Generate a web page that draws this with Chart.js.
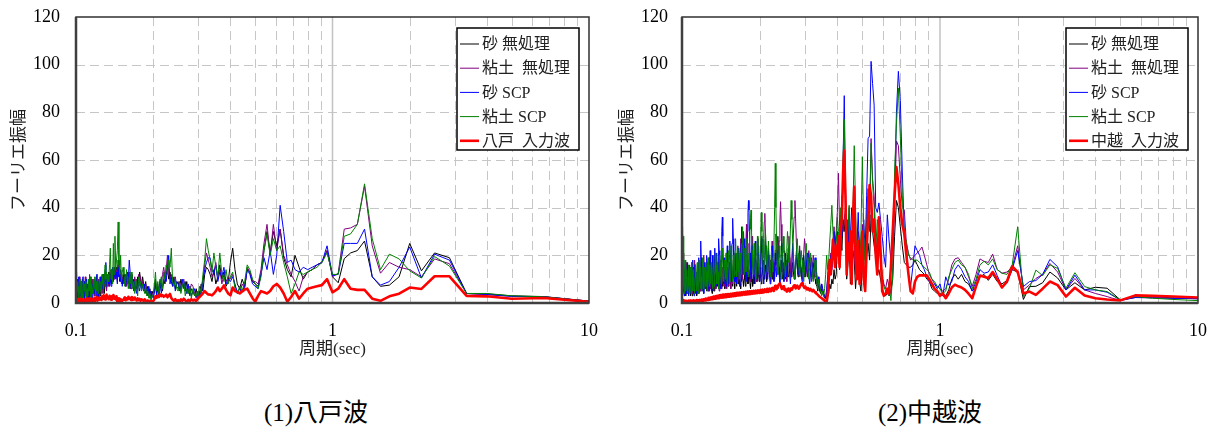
<!DOCTYPE html>
<html lang="ja">
<head>
<meta charset="utf-8">
<title>フーリエ振幅スペクトル</title>
<script src="https://cdn.jsdelivr.net/npm/chart.js@4.4.1/dist/chart.umd.min.js"></script>
<style>
  html, body { margin: 0; padding: 0; background: #fff; }
  body { width: 1217px; height: 432px; position: relative; overflow: hidden; }
  canvas { position: absolute; top: 0; }
  #chartHachinohe { left: 0; }
  #chartChuetsu { left: 608px; }
  .caption {
    position: absolute; top: 398px; width: 200px; line-height: 30px;
    text-align: center; color: #000;
    font-size: 25px; font-family: 'Liberation Serif', 'Noto Sans CJK JP', serif;
  }
</style>
</head>
<body>
<canvas id="chartHachinohe" width="608" height="362"></canvas>
<canvas id="chartChuetsu" width="609" height="362"></canvas>
<div class="caption" style="left:216px">(1)八戸波</div>
<div class="caption" style="left:830px">(2)中越波</div>
<script>
// 軸の目盛
const amplitudeTicks = [0, 20, 40, 60, 80, 100, 120];
const gridPeriods = [0.1, 0.2, 0.3, 0.4, 0.5, 0.6, 0.7, 0.8, 0.9, 1, 2, 3, 4, 5, 6, 7, 8, 9, 10];
const labelPeriods = [0.1, 1, 10];

const seriesNames = ['砂 無処理', '粘土  無処理', '砂 SCP', '粘土 SCP'];
const seriesColors = ['#000000', '#800080', '#0000ff', '#008000'];

// 八戸波：振動数刻み 0.05Hz（k = 200 → 2、周期 = 20/k 秒）
const kHachinohe = [];
for (let k = 200; k >= 2; k--) kHachinohe.push(k);
const periodHachinohe = kHachinohe.map(k => 20 / k);

const hachiSandRaw = [
  5, 2, 8, 3, 6, 1, 9, 4, 7, 2,
  6, 3, 9, 5, 2, 8, 4, 10, 3, 7,
  4, 8, 2, 6, 10, 3, 7, 5, 9, 4,
  7, 3, 9, 5, 11, 4, 8, 6, 10, 3,
  8, 5, 11, 7, 12, 4, 9, 13, 6, 10,
  9, 13, 7, 11, 14, 8, 12, 10, 15, 11,
  12, 15, 10, 18, 13, 9, 14, 11, 8, 12,
  9, 12, 7, 11, 13, 8, 10, 6, 12, 9,
  7, 10, 5, 9, 6, 11, 8, 13, 10, 7,
  11, 8, 6, 9, 5, 7, 4, 6, 3, 5,
  3, 5, 9, 4, 7, 3, 6, 8, 5, 10,
  8, 12, 15, 10, 13, 9, 7, 11, 6, 8,
  9, 6, 10, 7, 8, 5, 9, 4, 7, 3,
  5, 3, 6, 2, 4, 8, 5, 12, 15, 14,
  12, 9, 14, 8, 11, 16, 10, 13, 7, 9,
  17, 23, 14, 8, 6, 10, 7, 14, 13, 9,
  8, 7, 12, 22, 30, 21, 30, 24, 31, 19,
  14, 11, 20, 15, 10, 13, 14, 16, 17, 22,
  11, 8.5, 18.6, 21, 22, 26, 11, 7, 7.5, 11,
  25, 13.5, 21, 19, 4, 3.8, 3, 2.7, 0.8
];
const hachiClayRaw = [
  9, 13, 4, 10, 3, 8, 11, 2, 6, 5,
  4, 10, 2, 7, 9, 3, 11, 5, 8, 2,
  8, 3, 6, 12, 4, 9, 2, 10, 5, 7,
  3, 9, 5, 11, 7, 2, 10, 6, 4, 9,
  6, 11, 8, 4, 10, 12, 7, 9, 5, 11,
  10, 7, 12, 9, 13, 11, 8, 14, 10, 13,
  11, 14, 9, 16, 12, 10, 13, 8, 11, 9,
  8, 10, 12, 7, 9, 11, 13, 6, 10, 8,
  9, 6, 11, 7, 10, 5, 12, 8, 11, 6,
  9, 7, 5, 8, 4, 6, 3, 5, 2, 4,
  4, 6, 10, 5, 8, 4, 9, 7, 12, 15,
  11, 14, 20, 13, 10, 12, 9, 8, 11, 7,
  6, 9, 5, 8, 10, 6, 4, 7, 5, 8,
  7, 4, 2, 5, 3, 6, 10, 16, 21, 18,
  15, 11, 13, 17, 10, 14, 8, 12, 9, 11,
  10, 12, 7, 5, 4, 8, 6, 15, 13, 9,
  9, 8, 14, 25, 33, 20, 33, 22, 31, 20,
  16, 12, 9, 5, 11, 13, 14, 16, 17, 22,
  11, 12.5, 31, 31.5, 33, 49, 24, 12.5, 17, 15,
  14, 11, 18.5, 16.5, 4, 3.5, 2.8, 2.6, 0.8
];
const hachiSandScp = [
  7, 3, 10, 2, 5, 11, 4, 8, 3, 9,
  2, 6, 11, 3, 9, 1, 7, 4, 10, 5,
  8, 2, 5, 9, 3, 11, 6, 2, 8, 5,
  10, 4, 7, 3, 12, 6, 9, 2, 8, 11,
  5, 9, 12, 6, 10, 8, 14, 17, 7, 12,
  11, 8, 13, 10, 7, 12, 15, 9, 11, 14,
  10, 13, 8, 15, 11, 14, 9, 12, 7, 10,
  11, 9, 7, 12, 8, 10, 18, 13, 6, 11,
  8, 5, 9, 6, 4, 10, 7, 5, 8, 6,
  7, 5, 8, 4, 6, 3, 7, 2, 5, 3,
  2, 4, 8, 3, 6, 5, 10, 4, 7, 9,
  12, 9, 15, 20, 8, 11, 7, 10, 5, 9,
  8, 5, 7, 10, 6, 9, 4, 8, 3, 6,
  4, 6, 3, 2, 5, 3, 9, 14, 17, 19,
  19, 14, 12, 16, 9, 13, 11, 15, 8, 10,
  9, 11, 8, 4, 6, 5, 7, 14, 12, 8,
  7, 6, 12, 19, 14, 22, 12, 20, 41, 30,
  17, 18, 14, 13, 15, 14, 15, 16, 17, 24,
  11.5, 12, 25, 25, 25, 31, 11, 7.5, 9, 15,
  23.5, 10.5, 20.5, 18, 4, 3.6, 2.8, 2.6, 0.7
];
const hachiClayScp = [
  3, 8, 5, 9, 2, 7, 4, 10, 6, 1,
  9, 4, 2, 11, 5, 8, 3, 9, 2, 6,
  3, 10, 5, 7, 11, 2, 8, 6, 4, 10,
  6, 11, 3, 9, 5, 12, 4, 8, 10, 5,
  9, 4, 12, 8, 6, 11, 16, 10, 13, 7,
  12, 9, 16, 23, 10, 14, 8, 25, 12, 28,
  14, 18, 22, 34, 16, 12, 20, 9, 13, 15,
  12, 7, 10, 14, 9, 6, 11, 8, 13, 7,
  6, 9, 4, 10, 8, 3, 11, 7, 9, 5,
  8, 6, 4, 7, 3, 5, 2, 4, 1, 3,
  3, 7, 13, 5, 9, 4, 8, 11, 6, 13,
  10, 16, 12, 18, 15, 23, 9, 7, 10, 6,
  5, 8, 4, 7, 9, 3, 6, 4, 7, 2,
  6, 3, 4, 2, 7, 4, 12, 18, 27, 22,
  18, 13, 21, 15, 11, 21, 12, 9, 14, 8,
  11, 13, 6, 4, 7, 5, 9, 16, 14, 10,
  8, 6, 11, 22, 29, 20, 27, 22, 24, 17,
  11, 4, 8, 13, 12, 13, 14, 15, 17, 21,
  12, 12, 28, 29, 33, 50, 27, 14, 20.5, 18.5,
  13.5, 10.5, 19.5, 15.5, 4, 4, 3, 2.6, 0.7
];
const hachiInput = [
  0.8, 1.2, 0.5, 1.5, 0.7, 1.0, 1.8, 0.6, 1.3, 0.9,
  1.1, 0.5, 1.6, 0.8, 1.2, 0.4, 1.5, 1.0, 0.7, 1.9,
  1.4, 0.6, 1.0, 2.0, 0.8, 1.3, 0.5, 1.7, 1.1, 0.9,
  1.2, 2.2, 0.9, 1.6, 2.5, 1.0, 1.8, 1.3, 2.4, 1.5,
  2.0, 1.3, 2.8, 1.7, 3.2, 2.2, 1.5, 2.6, 3.5, 2.0,
  2.4, 1.6, 3.0, 2.2, 1.4, 2.8, 2.0, 3.3, 1.8, 2.6,
  1.5, 2.8, 0.5, 1.2, 2.0, 0.8, 1.6, 0.6, 1.0, 1.4,
  1.8, 2.4, 1.2, 2.0, 1.5, 2.6, 1.7, 2.2, 1.3, 2.5,
  2.0, 1.4, 2.3, 1.6, 1.1, 1.9, 1.2, 1.7, 0.9, 1.5,
  1.2, 0.8, 1.5, 1.0, 0.6, 1.1, 0.4, 0.9, 0.3, 0.7,
  0.8, 1.5, 2.8, 2.2, 3.2, 2.5, 3.6, 2.9, 3.3, 2.6,
  3.0, 3.5, 2.4, 3.1, 3.8, 2.0, 1.4, 0.9, 1.6, 0.7,
  1.2, 0.6, 1.5, 0.9, 1.8, 1.1, 0.5, 1.3, 0.8, 1.6,
  1.0, 1.4, 0.8, 1.8, 2.5, 3.2, 4.0, 5.0, 4.2, 3.6,
  3.5, 3.2, 4.0, 5.0, 6.5, 5.0, 6.0, 7.4, 5.5, 4.0,
  3.2, 6.5, 5.0, 4.6, 4.0, 4.8, 5.6, 6.0, 4.0, 2.0,
  0.5, 3, 5, 4.5, 4, 5, 7, 8, 6.5, 4,
  0.5, 2.5, 5, 1.8, 4, 6, 6.5, 7, 7.5, 10,
  4.5, 6, 10, 6, 5.5, 5.5, 1.8, 0.9, 2.8, 3.9,
  6.5, 5.9, 11.2, 11.2, 3, 2.8, 1.8, 2.1, 0.5
];

// 中越波：振動数刻み 0.025Hz（k = 400 → 4、周期 = 40/k 秒）
const kChuetsu = [];
for (let k = 400; k >= 4; k--) kChuetsu.push(k);
const periodChuetsu = kChuetsu.map(k => 40 / k);

const chuSandRaw = [
  14, 10, 6, 4, 7, 11, 8, 5, 3, 6,
  9, 12, 8, 5, 3, 6, 10, 7, 4, 6,
  10, 7, 4, 3, 6, 9, 12, 8, 5, 3,
  5, 8, 11, 8, 5, 3, 6, 10, 7, 4,
  6, 9, 12, 9, 6, 4, 7, 11, 8, 5,
  3, 6, 9, 13, 9, 6, 4, 7, 10, 7,
  5, 8, 11, 8, 5, 7, 11, 14, 10, 6,
  4, 7, 10, 13, 9, 6, 9, 12, 8, 5,
  8, 11, 14, 10, 7, 5, 8, 11, 8, 6,
  9, 12, 9, 6, 4, 7, 11, 14, 10, 7,
  5, 8, 12, 9, 6, 9, 13, 10, 7, 10,
  13, 9, 6, 8, 12, 15, 11, 8, 6, 9,
  12, 9, 7, 10, 14, 11, 8, 6, 9, 13,
  10, 7, 10, 13, 10, 7, 9, 12, 15, 11,
  8, 6, 9, 12, 9, 7, 10, 14, 11, 8,
  6, 9, 12, 10, 7, 10, 14, 11, 8, 11,
  14, 11, 8, 6, 9, 13, 16, 12, 9, 7,
  10, 13, 10, 7, 9, 12, 15, 11, 8, 11,
  14, 11, 8, 6, 9, 13, 10, 7, 10, 14,
  11, 8, 11, 15, 12, 9, 12, 16, 12, 9,
  12, 15, 11, 8, 11, 14, 18, 14, 10, 13,
  16, 12, 9, 12, 16, 20, 15, 11, 14, 18,
  14, 10, 13, 17, 13, 10, 14, 19, 24, 18,
  28, 21, 15, 11, 14, 18, 13, 10, 14, 17,
  13, 10, 14, 18, 14, 11, 15, 19, 15, 11,
  14, 17, 13, 10, 13, 17, 20, 15, 11, 14,
  18, 14, 11, 15, 19, 15, 11, 14, 18, 14,
  11, 15, 19, 15, 11, 14, 17, 13, 10, 8,
  7, 5, 8, 5, 4, 6, 4, 3, 2, 2,
  3, 5, 4, 8, 6, 10, 8, 14, 10, 12,
  25, 20, 14, 28, 22, 35, 30, 38, 10, 16, 26, 8, 12, 22, 18, 6, 14, 20, 9, 5, 15,
  15, 8, 20, 25, 18, 37, 30, 24, 20, 12,
  14, 10, 6, 4, 3, 4, 3, 5, 10, 28,
  43, 40, 32, 24, 17, 16, 15, 15, 16, 18, 16, 14, 13, 12, 10, 9,
  6, 5, 4, 4, 3, 3, 5.5, 10, 12, 10,
  12, 9, 8, 5, 7, 11, 12, 9.5, 12, 9,
  8, 9.5, 14, 13, 1.5, 6.9, 7, 8.5, 13, 10.5,
  5.5, 8.5, 5.5, 6.6, 6.2, 1.3, 2.4, 2.7, 2.1, 1.8
];
const chuClayRaw = [
  8, 15, 22, 29, 21, 13, 8, 5, 9, 14,
  10, 6, 4, 8, 13, 17, 12, 7, 5, 9,
  14, 11, 7, 4, 7, 12, 16, 13, 8, 5,
  8, 13, 17, 12, 7, 4, 6, 11, 15, 10,
  6, 9, 14, 18, 13, 8, 5, 8, 12, 9,
  5, 7, 11, 16, 12, 7, 4, 9, 14, 17,
  13, 8, 5, 9, 14, 19, 15, 10, 6, 10,
  15, 20, 14, 9, 6, 10, 16, 12, 7, 11,
  17, 13, 8, 5, 10, 15, 19, 14, 9, 6,
  10, 15, 11, 7, 12, 18, 13, 8, 5, 9,
  14, 19, 15, 10, 6, 11, 17, 13, 8, 12,
  17, 12, 8, 5, 9, 14, 18, 13, 9, 6,
  10, 15, 12, 8, 13, 17, 12, 7, 11, 16,
  12, 8, 6, 10, 15, 11, 7, 12, 17, 13,
  9, 6, 11, 16, 13, 8, 12, 18, 14, 10,
  15, 21, 16, 11, 8, 13, 19, 24, 18, 12,
  9, 15, 22, 27, 20, 14, 10, 16, 23, 30,
  24, 17, 12, 19, 26, 33, 25, 17, 12, 18,
  25, 19, 13, 9, 15, 22, 28, 21, 15, 11,
  16, 23, 18, 13, 9, 14, 21, 27, 20, 14,
  10, 15, 22, 28, 21, 15, 19, 27, 34, 37.6,
  30, 22, 15, 11, 16, 23, 18, 12, 9, 14,
  20, 26, 20, 14, 10, 15, 22, 29, 23, 16,
  12, 18, 26, 34, 42.5, 33, 22, 15, 11, 16,
  22, 17, 12, 9, 14, 21, 28, 22, 15, 11,
  16, 22, 29, 36, 43, 34, 24, 17, 12, 18,
  24, 19, 14, 10, 15, 21, 27, 21, 15, 11,
  16, 22, 18, 13, 9, 14, 20, 16, 11, 15,
  12, 8, 11, 7, 5, 8, 6, 4, 3, 2,
  6, 11, 17, 13, 21, 15, 24, 32, 25, 30,
  38, 54.4, 32, 20, 45, 30, 35, 40, 25, 18, 40, 22, 15, 35, 28, 12, 20, 30, 25, 10, 33,
  25, 18, 35, 48, 30, 69, 52, 45, 28, 20,
  25, 18, 12, 8, 6, 10, 7, 4, 15, 40,
  68, 66, 52, 40, 39, 25, 21, 18, 19, 20, 21, 22, 23.5, 20, 16, 12,
  10, 8, 7, 6, 5, 6, 10, 16, 18.5, 19,
  17, 15, 11, 7, 12, 18.5, 17.5, 17, 20.5, 14,
  12.5, 13, 15, 24, 5.5, 7.6, 10.3, 12, 16.6, 13,
  5.5, 10.3, 5.5, 4, 2.7, 1.0, 2.3, 2.2, 2, 1.8
];
const chuSandScp = [
  32, 24, 15, 8, 5, 9, 14, 18, 12, 6,
  3, 5, 10, 16, 13, 8, 4, 7, 12, 17,
  14, 9, 5, 3, 6, 11, 15, 12, 7, 4,
  6, 10, 13, 9, 5, 8, 14, 18, 13, 8,
  5, 3, 7, 12, 16, 11, 6, 4, 8, 13,
  10, 6, 4, 9, 15, 19, 14, 9, 6, 11,
  16, 21, 26, 19, 12, 8, 5, 9, 14, 11,
  7, 4, 8, 13, 17, 12, 7, 10, 15, 20,
  16, 10, 6, 9, 13, 8, 5, 11, 17, 22,
  18, 12, 8, 5, 9, 15, 20, 14, 9, 13,
  18, 23, 17, 11, 7, 10, 16, 21, 15, 9,
  14, 20, 27, 22, 14, 9, 6, 11, 17, 24,
  30, 36, 28, 19, 12, 8, 13, 19, 15, 10,
  7, 12, 18, 24, 17, 11, 8, 14, 20, 26,
  21, 15, 10, 16, 25, 31, 35.5, 27, 18, 12,
  9, 14, 20, 16, 11, 8, 13, 19, 23, 17,
  11, 7, 12, 18, 25, 32, 26, 18, 12, 15,
  21, 27, 20, 13, 9, 15, 22, 30, 38, 43,
  39, 30, 21, 14, 10, 16, 24, 18, 12, 8,
  13, 19, 26, 20, 14, 10, 17, 24, 19, 13,
  9, 14, 21, 27, 22, 15, 11, 8, 13, 20,
  26, 20, 14, 10, 15, 22, 17, 12, 8, 12,
  18, 24, 19, 13, 9, 14, 21, 16, 11, 15,
  22, 17, 12, 8, 13, 20, 25, 18, 12, 9,
  14, 21, 16, 11, 17, 23, 18, 12, 8, 13,
  19, 25, 20, 14, 10, 15, 22, 17, 12, 16,
  22, 17, 12, 9, 14, 20, 16, 11, 15, 21,
  17, 12, 8, 13, 19, 15, 10, 14, 19, 14,
  10, 7, 11, 8, 5, 8, 6, 4, 3, 2,
  5, 10, 16, 12, 20, 14, 26, 30, 22, 28,
  30, 24, 18, 35, 28, 60, 87, 50, 22, 35, 19, 28, 40, 25, 31, 14, 24, 38, 20, 12, 25,
  35, 22, 45, 69, 70, 101.4, 92, 83, 40, 38,
  42, 35, 28, 20, 15, 37, 26, 18, 30, 45,
  80, 97.2, 85, 55, 30, 24, 12, 7, 15, 24, 22, 20, 16, 14, 11, 9,
  7, 8, 6, 8, 3, 11, 7.5, 9, 14, 16,
  14, 11, 9, 5, 9, 14, 12.5, 13, 16, 11.5,
  7, 8.5, 14, 22, 6.9, 9, 9.4, 12, 18.3, 15.2,
  5.5, 11.7, 5.5, 5.5, 4.5, 1.2, 2.3, 2.2, 2, 1.8
];
const chuClayScp = [
  4, 10, 17, 24, 28, 20, 12, 7, 4, 8,
  13, 18, 13, 8, 5, 9, 14, 10, 6, 4,
  7, 11, 16, 12, 7, 4, 6, 10, 15, 11,
  7, 4, 8, 12, 17, 13, 8, 5, 9, 14,
  10, 6, 4, 7, 11, 16, 12, 8, 5, 9,
  13, 17, 12, 7, 4, 8, 13, 18, 14, 9,
  6, 10, 15, 11, 7, 5, 9, 14, 19, 14,
  9, 6, 10, 15, 11, 7, 12, 17, 13, 8,
  5, 9, 14, 19, 15, 10, 7, 11, 16, 12,
  8, 12, 17, 13, 9, 6, 10, 15, 20, 15,
  10, 7, 11, 16, 21, 16, 11, 8, 12, 17,
  13, 9, 6, 10, 15, 20, 16, 11, 8, 13,
  18, 23, 18, 12, 9, 13, 18, 14, 10, 15,
  21, 16, 11, 8, 12, 17, 22, 17, 12, 9,
  14, 19, 24, 18, 13, 9, 14, 20, 15, 11,
  16, 22, 27, 21, 15, 11, 16, 23, 18, 13,
  10, 15, 21, 17, 12, 18, 25, 32, 24, 16,
  12, 17, 23, 18, 13, 20, 27, 21, 15, 11,
  17, 24, 31, 36, 39, 30, 22, 16, 12, 18,
  25, 19, 14, 10, 15, 22, 28, 21, 15, 12,
  17, 24, 31, 38, 30, 22, 16, 12, 18, 25,
  31, 24, 18, 13, 19, 26, 20, 15, 11, 16,
  22, 17, 13, 18, 26, 40, 58.6, 40, 25, 17,
  12, 18, 24, 19, 14, 10, 15, 22, 28, 21,
  15, 11, 16, 23, 30, 24, 17, 22, 31, 43,
  35, 26, 19, 14, 10, 15, 22, 27, 21, 15,
  11, 16, 22, 18, 13, 9, 14, 20, 25, 19,
  14, 10, 15, 21, 17, 12, 9, 13, 18, 13,
  9, 6, 10, 7, 5, 3, 5, 3, 6, 12,
  20, 14, 18, 26, 33, 41, 30, 22, 18, 25,
  36, 30, 22, 40, 33, 62, 77, 45, 18, 30, 41, 15, 23, 38, 66, 40, 17, 25, 12, 30, 61.4,
  30, 12, 28, 45, 38, 67, 50, 40, 22, 35,
  30, 22, 11, 7, 5, 4, 8, 1, 12, 55,
  75, 90.2, 70, 45, 28, 26, 20, 19, 18, 18, 18, 17, 16, 15, 14, 13,
  10, 9, 7, 6, 4, 5, 11, 14, 17, 18,
  16, 15, 12, 6, 10, 16, 17.5, 16, 18.5, 14,
  12.5, 12, 16, 32, 2.7, 6.2, 13.8, 11.5, 16, 14.5,
  6.2, 12.7, 6.9, 5.5, 4.8, 1.3, 2.7, 2, 1.5, 1
];
const chuInput = [
  0.5, 0.8, 1.0, 0.7, 0.5, 0.6, 0.9, 1.2, 0.8, 0.5,
  0.4, 0.6, 0.9, 0.7, 0.5, 0.4, 0.6, 0.8, 0.6, 0.4,
  0.5, 0.7, 1.0, 0.8, 0.6, 0.4, 0.5, 0.8, 1.0, 0.7,
  0.5, 0.4, 0.6, 0.9, 0.7, 0.5, 0.6, 0.9, 1.1, 0.8,
  0.6, 0.5, 0.7, 1.0, 0.8, 0.6, 0.7, 1.0, 1.2, 0.9,
  0.7, 0.6, 0.8, 1.1, 0.9, 0.7, 0.8, 1.2, 1.0, 0.8,
  0.9, 1.2, 1.0, 0.8, 1.1, 1.4, 1.1, 0.9, 1.2, 1.5,
  1.2, 1.0, 1.3, 1.7, 1.4, 1.1, 1.5, 1.9, 1.5, 1.2,
  1.5, 1.9, 1.6, 1.3, 1.7, 2.2, 1.8, 1.4, 1.8, 2.3,
  1.9, 1.5, 1.8, 2.4, 2.0, 1.6, 2.0, 2.6, 2.1, 1.7,
  2.1, 2.7, 2.2, 1.8, 2.3, 2.9, 2.4, 1.9, 2.4, 3.0,
  2.5, 2.0, 2.6, 3.2, 2.6, 2.1, 2.7, 3.3, 2.7, 2.2,
  2.8, 3.4, 2.8, 2.3, 2.9, 3.5, 2.9, 2.4, 3.0, 3.6,
  3.0, 2.5, 3.1, 3.7, 3.1, 2.6, 3.2, 3.8, 3.2, 2.7,
  3.3, 3.9, 3.3, 2.8, 3.4, 4.0, 3.4, 2.9, 3.5, 4.1,
  3.5, 3.0, 3.6, 4.2, 3.6, 3.1, 3.7, 4.3, 3.7, 3.2,
  3.8, 4.4, 3.8, 3.3, 3.9, 4.5, 3.9, 3.4, 4.0, 4.6,
  4.0, 3.5, 4.1, 4.7, 4.1, 3.6, 4.2, 4.8, 4.2, 3.7,
  4.3, 4.9, 4.3, 3.8, 4.4, 5.0, 4.4, 3.9, 4.5, 5.1,
  4.5, 4.0, 4.6, 5.2, 4.6, 4.1, 4.7, 5.3, 4.7, 4.2,
  4.8, 5.4, 4.8, 4.3, 4.9, 5.6, 5.0, 4.4, 5.0, 5.7,
  5.1, 4.6, 5.2, 5.9, 5.3, 4.7, 5.4, 6.1, 5.5, 4.9,
  5.6, 6.3, 5.7, 5.1, 5.8, 6.6, 7.2, 6.5, 5.8, 6.4,
  7.0, 7.6, 8.0, 8.3, 7.5, 6.6, 5.9, 6.4, 7.0, 6.2,
  5.5, 6.0, 5.3, 4.8, 5.4, 6.0, 5.4, 4.9, 5.5, 6.1,
  5.6, 6.2, 6.9, 7.4, 6.8, 6.1, 6.7, 7.3, 6.6, 6.0,
  6.6, 7.3, 7.9, 8.3, 7.6, 6.9, 6.3, 6.9, 6.2, 5.7,
  6.3, 5.8, 5.3, 5.9, 5.4, 4.9, 5.5, 5.0, 4.5, 4.1,
  3.8, 3.4, 3.0, 2.6, 2.3, 2.0, 1.7, 1.3, 1.0, 0.6,
  0.5, 3, 10, 18, 12, 19, 26.5, 20, 15, 24,
  20, 28, 15, 30, 36, 55, 64, 45, 12, 25, 18, 30, 8, 35, 48.8, 20, 10, 26, 8, 15, 30,
  10, 5, 22, 35, 49.5, 45, 30, 35, 20, 12,
  36, 22, 5, 3, 4, 6, 4, 15, 30, 45,
  57, 50, 40, 33, 29, 20, 12, 5, 4, 9, 11, 11.6, 11.6, 11.6, 11.6, 10,
  8, 6, 5, 3, 4, 2, 4, 6.5, 7.7, 7,
  6.5, 5.5, 3.9, 2, 7, 11.5, 11, 10.5, 13, 10,
  6.5, 9, 15.3, 13, 4, 4.8, 3.4, 6, 9, 7.5,
  2.7, 6.4, 3.1, 2, 1.5, 1.1, 3.2, 3.0, 2.7, 2.3
];

const serifCjk = "'Liberation Serif', 'Noto Sans CJK JP', serif";

// グリッド（破線）と周期1秒の実線、外枠
const framePlugin = {
  id: 'plotFrame',
  beforeDatasetsDraw(chart) {
    const { ctx, chartArea: a, scales: { x, y } } = chart;
    ctx.save();
    ctx.strokeStyle = '#c6c6c6';
    ctx.lineWidth = 1;
    ctx.setLineDash([9, 5]);
    ctx.beginPath();
    gridPeriods.forEach(p => {
      if (labelPeriods.includes(p)) return;
      const px = Math.round(x.getPixelForValue(p)) + 0.5;
      ctx.moveTo(px, a.top);
      ctx.lineTo(px, a.bottom);
    });
    amplitudeTicks.slice(1, -1).forEach(v => {
      const py = Math.round(y.getPixelForValue(v)) + 0.5;
      ctx.moveTo(a.left, py);
      ctx.lineTo(a.right, py);
    });
    ctx.stroke();
    ctx.setLineDash([]);
    ctx.strokeStyle = '#c2c2c2';
    ctx.lineWidth = 1.5;
    const p1 = x.getPixelForValue(1);
    ctx.beginPath();
    ctx.moveTo(p1, a.top);
    ctx.lineTo(p1, a.bottom);
    ctx.stroke();
    ctx.restore();
  },
  afterDatasetsDraw(chart) {
    const { ctx, chartArea: a } = chart;
    ctx.save();
    ctx.strokeStyle = '#303030';
    ctx.lineWidth = 1.5;
    ctx.strokeRect(a.left, a.top, a.right - a.left, a.bottom - a.top);
    ctx.strokeStyle = '#404040';
    ctx.lineWidth = 2.5;
    ctx.beginPath();
    ctx.moveTo(a.left, a.top);
    ctx.lineTo(a.left, a.bottom);
    ctx.lineTo(a.right, a.bottom);
    ctx.stroke();
    ctx.restore();
  }
};

// 凡例（プロット内右上の枠付き）
const boxLegendPlugin = {
  id: 'boxLegend',
  afterDraw(chart) {
    const { ctx, chartArea: a } = chart;
    const w = 122, h = 122;
    const left = a.right - 10 - w;
    const top = a.top + 11;
    ctx.save();
    ctx.fillStyle = '#fff';
    ctx.fillRect(left, top, w, h);
    ctx.strokeStyle = '#000';
    ctx.lineWidth = 1.5;
    ctx.strokeRect(left, top, w, h);
    ctx.font = '16px ' + serifCjk;
    ctx.textBaseline = 'middle';
    ctx.fillStyle = '#222';
    chart.data.datasets.forEach((ds, i) => {
      const cy = top + 16 + i * 24.2;
      ctx.strokeStyle = ds.borderColor;
      ctx.lineWidth = ds.borderWidth;
      ctx.beginPath();
      ctx.moveTo(left + 3, cy);
      ctx.lineTo(left + 22, cy);
      ctx.stroke();
      ctx.fillText(ds.label, left + 25, cy + 1);
    });
    ctx.restore();
  }
};

function buildDatasets(periods, lists, inputLabel) {
  const names = seriesNames.concat([inputLabel]);
  const colors = seriesColors.concat(['#ff0000']);
  return lists.map((vals, i) => ({
    label: names[i],
    data: periods.map((p, j) => ({ x: p, y: vals[j] })),
    borderColor: colors[i],
    borderWidth: i === 4 ? 2.6 : 1,
    order: 4 - i,
    pointRadius: 0,
    tension: 0,
    fill: false
  }));
}

// 目盛ラベルの間隔は（描画しない）目盛線の長さで取る：ticks.padding はレイアウト余白にも加算されるため
function drawSpectrum(canvasId, datasets, yAxisWidth, yTickGap, yTitlePad) {
  const ctx = document.getElementById(canvasId).getContext('2d');
  return new Chart(ctx, {
    type: 'line',
    data: { datasets },
    options: {
      responsive: false,
      animation: false,
      events: [],
      layout: { padding: { top: 17, right: 19, bottom: 2, left: 0 } },
      elements: { line: { borderJoinStyle: 'round' } },
      plugins: { legend: { display: false }, tooltip: { enabled: false } },
      scales: {
        x: {
          type: 'logarithmic',
          min: 0.1,
          max: 10,
          grid: { display: false, drawTicks: true, tickLength: 17 },
          border: { display: false },
          afterBuildTicks: s => { s.ticks = gridPeriods.map(v => ({ value: v })); },
          afterFit: s => { s.height = 57; },
          ticks: {
            autoSkip: false,
            maxRotation: 0,
            padding: 0,
            color: '#000',
            font: { family: serifCjk, size: 18 },
            callback: (v, i, ticks) => labelPeriods.includes(ticks[i].value) ? String(ticks[i].value) : ''
          },
          title: {
            display: true,
            text: '周期(sec)',
            color: '#222',
            padding: 0,
            font: { family: serifCjk, size: 17 }
          }
        },
        y: {
          min: 0,
          max: 120,
          grid: { display: false, drawTicks: true, tickLength: yTickGap },
          border: { display: false },
          afterFit: s => { s.width = yAxisWidth; },
          ticks: {
            stepSize: 20,
            padding: 0,
            color: '#000',
            font: { family: serifCjk, size: 18 }
          },
          title: {
            display: true,
            text: 'フーリエ振幅',
            color: '#222',
            padding: { top: yTitlePad, bottom: 0 },
            font: { family: serifCjk, size: 17 }
          }
        }
      }
    },
    plugins: [framePlugin, boxLegendPlugin]
  });
}

window.addEventListener('load', () => {
  drawSpectrum('chartHachinohe',
    buildDatasets(periodHachinohe, [hachiSandRaw, hachiClayRaw, hachiSandScp, hachiClayScp, hachiInput], '八戸  入力波'),
    76, 16, 9);
  drawSpectrum('chartChuetsu',
    buildDatasets(periodChuetsu, [chuSandRaw, chuClayRaw, chuSandScp, chuClayScp, chuInput], '中越  入力波'),
    74, 14, 9);
});
</script>
</body>
</html>
